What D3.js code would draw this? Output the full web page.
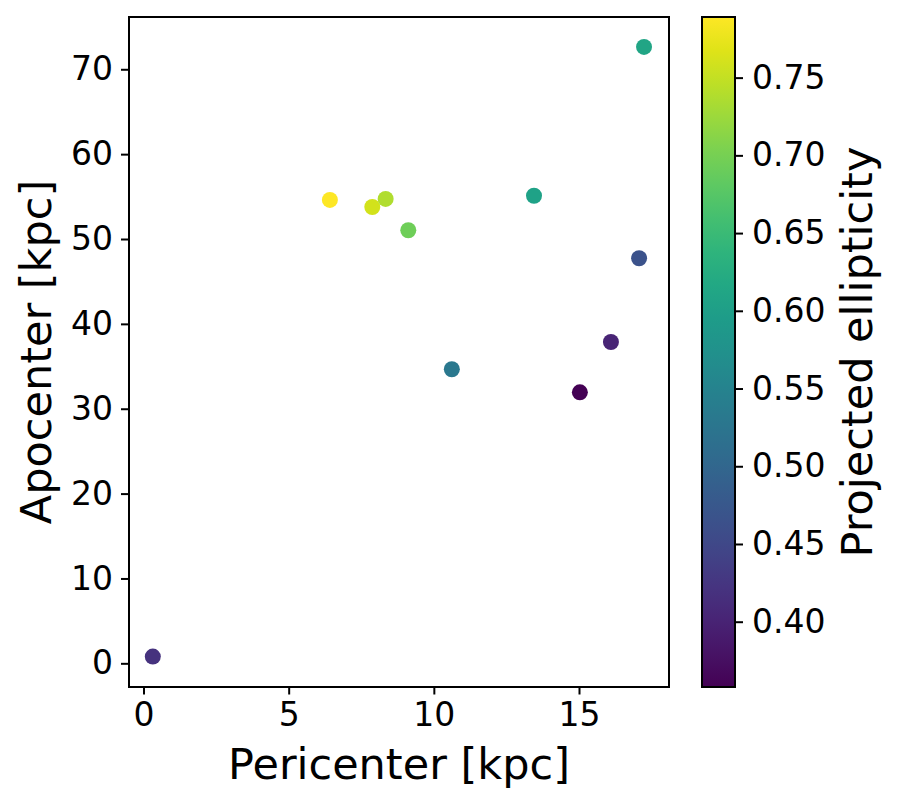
<!DOCTYPE html>
<html><head><meta charset="utf-8">
<script src="https://cdn.jsdelivr.net/npm/d3@7"></script>
<style>body{margin:0;background:#fff}svg{display:block}text{font-family:"DejaVu Sans",sans-serif;fill:#000}</style>
</head><body>
<svg id="c" width="897" height="806"></svg>
<script>
const pericenter = [6.42, 7.88, 8.34, 9.12, 13.45, 17.24, 17.07, 16.10, 10.62, 15.03, 0.32];
const apocenter  = [54.60, 53.77, 54.72, 51.03, 55.10, 72.63, 47.73, 37.86, 34.65, 31.93, 0.80];
const ellipticity = [0.789, 0.759, 0.737, 0.694, 0.606, 0.612, 0.466, 0.401, 0.530, 0.358, 0.420];
const xTicks = [0, 5, 10, 15];
const yTicks = [0, 10, 20, 30, 40, 50, 60, 70];
const cTicks = [0.40, 0.45, 0.50, 0.55, 0.60, 0.65, 0.70, 0.75];

const svg = d3.select("#c");
const L = 129, R = 669, T = 17, B = 687;
const x = d3.scaleLinear().domain([-0.5, 18.1]).range([L, R]);
const y = d3.scaleLinear().domain([-2.79, 76.16]).range([B, T]);
const cmin = 0.358, cmax = 0.789;
const color = d3.scaleSequential(d3.interpolateViridis).domain([cmin, cmax]);

// points
svg.append("g").selectAll("circle").data(pericenter.map((p,i)=>({p, a:apocenter[i], e:ellipticity[i]})))
  .join("circle").attr("cx", d=>x(d.p)).attr("cy", d=>y(d.a)).attr("r", 8).attr("fill", d=>color(d.e));

// axes
const fs = 33;
const xAxis = svg.append("g").attr("transform", `translate(0,${B})`)
  .call(d3.axisBottom(x).tickValues(xTicks).tickSize(7.5).tickPadding(8).tickFormat(d3.format("d")));
const yAxis = svg.append("g").attr("transform", `translate(${L},0)`)
  .call(d3.axisLeft(y).tickValues(yTicks).tickSize(8).tickPadding(8).tickFormat(d3.format("d")));
[xAxis, yAxis].forEach(g => {
  g.select(".domain").remove();
  g.selectAll("line").attr("stroke", "#000").attr("stroke-width", 2);
  g.selectAll("text").attr("font-size", fs).attr("font-family", "DejaVu Sans");
});
svg.append("rect").attr("x", L).attr("y", T).attr("width", R-L).attr("height", B-T)
  .attr("fill", "none").attr("stroke", "#000").attr("stroke-width", 2);

// axis labels
const lfs = 43;
svg.append("text").attr("x", (L+R)/2).attr("y", 779).attr("text-anchor", "middle")
  .attr("font-size", lfs).text("Pericenter [kpc]");
svg.append("text").attr("transform", `translate(51,${(T+B)/2}) rotate(-90)`).attr("text-anchor", "middle")
  .attr("font-size", lfs).text("Apocenter [kpc]");

// colorbar
const CL = 702, CR = 735;
const cy = d3.scaleLinear().domain([cmin, cmax]).range([B, T]);
const defs = svg.append("defs");
const grad = defs.append("linearGradient").attr("id", "vg").attr("x1", 0).attr("y1", 1).attr("x2", 0).attr("y2", 0);
d3.range(0, 1.0001, 0.05).forEach(t => grad.append("stop").attr("offset", t).attr("stop-color", d3.interpolateViridis(t)));
svg.append("rect").attr("x", CL).attr("y", T).attr("width", CR-CL).attr("height", B-T)
  .attr("fill", "url(#vg)").attr("stroke", "#000").attr("stroke-width", 2);
const cAxis = svg.append("g").attr("transform", `translate(${CR},0)`)
  .call(d3.axisRight(cy).tickValues(cTicks).tickSize(8).tickPadding(9).tickFormat(d3.format(".2f")));
cAxis.select(".domain").remove();
cAxis.selectAll("line").attr("stroke", "#000").attr("stroke-width", 2);
cAxis.selectAll("text").attr("font-size", fs).attr("font-family", "DejaVu Sans");
svg.append("text").attr("transform", `translate(872,${(T+B)/2}) rotate(-90)`).attr("text-anchor", "middle")
  .attr("font-size", lfs).text("Projected ellipticity");
</script>
</body></html>
